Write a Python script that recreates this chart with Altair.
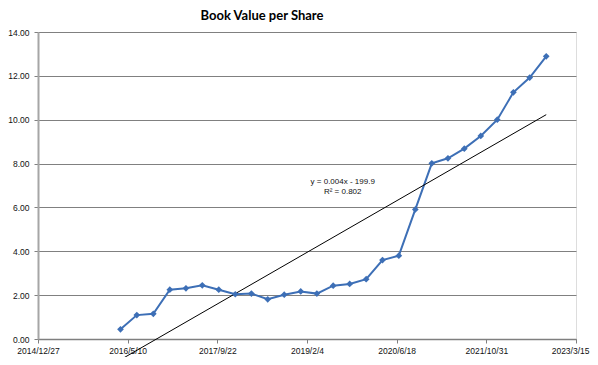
import altair as alt
import pandas as pd

# Quarter-end dates (2016 Q1 .. 2022 Q3)
dates = pd.date_range("2016-03-31", periods=27, freq="QE").strftime("%Y-%m-%d").tolist()
values = [0.44, 1.09, 1.15, 2.25, 2.31, 2.45, 2.25, 2.04, 2.07, 1.81, 2.02, 2.17,
          2.07, 2.43, 2.51, 2.73, 3.60, 3.80, 5.91, 8.01, 8.24, 8.68, 9.26, 10.00,
          11.25, 11.92, 12.89]

eq_text = ["y = 0.004x - 199.9", "R² = 0.802"]
eq_date = ["2019-08-22", "2019-08-22"]
eq_value = [7.18, 6.72]

x_tick_dates = [(2014, 12, 27), (2016, 5, 10), (2017, 9, 22), (2019, 2, 4),
                (2020, 6, 18), (2021, 10, 31), (2023, 3, 15)]
y_ticks = [0, 2, 4, 6, 8, 10, 12, 14]

df = pd.DataFrame({"date": dates, "value": values})
eq_df = pd.DataFrame({"date": eq_date, "value": eq_value, "text": eq_text})

tick_vals = [alt.DateTime(year=y, month=m, date=d, utc=True) for (y, m, d) in x_tick_dates]

LABEL_FONT = "Liberation Sans"

x_enc = alt.X(
    "date:T",
    scale=alt.Scale(type="utc", domain=[tick_vals[0], tick_vals[-1]], nice=False),
    axis=alt.Axis(
        values=tick_vals,
        labelExpr="utcFormat(datum.value, '%Y/%-m/%-d')",
        title=None,
        grid=False,
        domainColor="#7f7f7f",
        domainWidth=1.5,
        tickColor="#7f7f7f",
        tickSize=4,
        labelFont=LABEL_FONT,
        labelFontSize=8.5,
        labelColor="#111111",
        labelPadding=3,
        labelFlush=False,
        labelOverlap=False,
        labelAlign={"condition": {"test": "datum.index >= 1", "value": "right"}, "value": "center"},
        labelOffset={"condition": {"test": "datum.index >= 1", "value": 13}, "value": 0},
    ),
)
y_enc = alt.Y(
    "value:Q",
    scale=alt.Scale(domain=[0, 14], nice=False, zero=True),
    axis=alt.Axis(
        values=y_ticks,
        format=".2f",
        title=None,
        grid=True,
        gridColor="#808080",
        gridWidth=1,
        domainColor="#a6a6a6",
        domainWidth=2,
        tickColor="#808080",
        tickSize=4,
        labelFont=LABEL_FONT,
        labelFontSize=8.5,
        labelColor="#111111",
        labelPadding=5,
    ),
)

base = alt.Chart(df)

line = base.mark_line(color="#3d6fb6", strokeWidth=2, clip=False).encode(x=x_enc, y=y_enc)
pts = base.mark_point(shape="diamond", filled=True, size=45, color="#3d6fb6", opacity=1).encode(
    x="date:T", y="value:Q"
)
trend = base.transform_regression("date", "value").mark_line(
    color="#000000", strokeWidth=1, clip=False
).encode(x="date:T", y="value:Q")

eq = alt.Chart(eq_df).mark_text(
    font=LABEL_FONT, fontSize=8, color="#111111", align="center", baseline="middle"
).encode(x="date:T", y="value:Q", text="text:N")

chart = (
    alt.layer(line, trend, pts, eq)
    .properties(
        width=538,
        height=307,
        autosize=alt.AutoSizeParams(type="none"),
        padding={"left": 30, "top": 24, "right": 14, "bottom": 18},
        title=alt.TitleParams(
            "Book Value per Share",
            font="Lato",
            fontSize=13,
            fontWeight="bold",
            color="#000000",
            anchor="middle",
            dx=-45,
            offset=5,
        ),
    )
    .configure_view(stroke=None)
    .configure(background="white")
)

chart.save("out.html", embed_options={"renderer": "svg", "actions": False})
